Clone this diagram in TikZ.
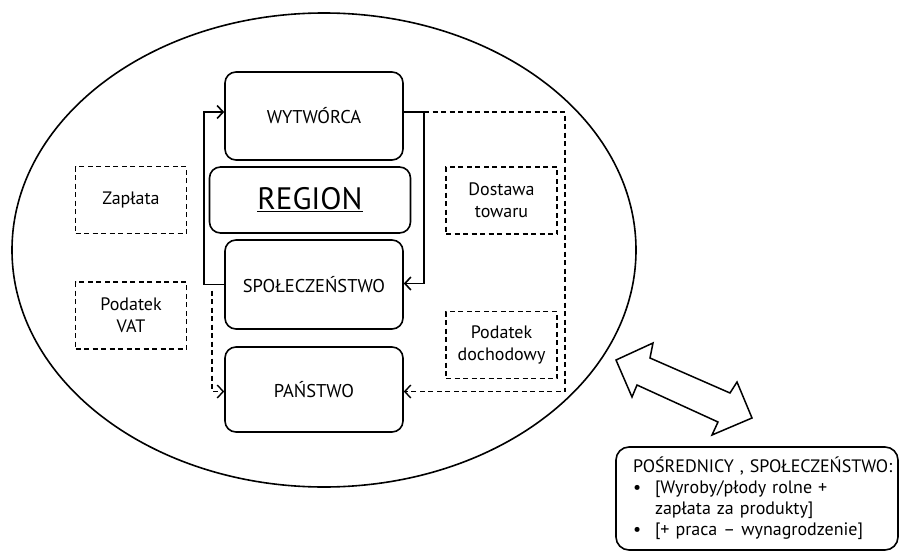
\documentclass[tikz,border=0pt]{standalone}
\usepackage{fontspec}
\setmainfont{PT Sans}
\usetikzlibrary{arrows.meta,positioning}

\begin{document}
\begin{tikzpicture}[x=1pt,y=-1pt,
    box/.style={draw, line width=1.6pt, rounded corners=11pt, minimum width=178pt,
      font=\fontsize{18.5}{20}\selectfont},
    note/.style={draw, line width=1.4pt, dash pattern=on 5pt off 3.5pt, minimum width=111pt,
      minimum height=67pt, align=center, font=\fontsize{18}{22}\selectfont},
    flow/.style={line width=1.6pt, -{Straight Barb[length=6pt,width=13pt]}},
    taxflow/.style={flow, line width=1.4pt, dash pattern=on 5pt off 3.5pt}]
    \useasboundingbox (0,0) rectangle (900,554);
    \def \lx {204}   % left loop
    \def \rx {424}   % right loop
    \def \dx {565}   % dashed return line
    \def \ldx {212}  % dashed VAT line
    % region
    \draw[line width=1.6pt] (324,250) ellipse [x radius=312, y radius=237];
    \node[box, minimum height=88pt] (wytworca) at (314,116) {WYTWÓRCA};
    \node[box, minimum width=201pt, minimum height=66pt, font=\fontsize{31}{34}\selectfont]
      (region) at (310,200) {\underline{REGION}};
    \node[box, minimum height=89pt] (spoleczenstwo) at (314,284.5) {SPOŁECZEŃSTWO};
    \node[box, minimum height=85pt] (panstwo) at (314,389.5) {PAŃSTWO};
    \foreach \nm/\px/\py/\txt in {zaplata/131/200/{Zapłata},
        vat/131/315.5/{Podatek\\VAT},
        dostawa/501.5/200.5/{Dostawa\\towaru},
        dochodowy/501.5/345/{Podatek\\dochodowy}}
    {
      \node[note] (\nm) at (\px,\py) {\txt};
    }
    \coordinate (lcorner) at (\lx,0);
    \coordinate (rcorner) at (\rx,0);
    \coordinate (dcorner) at (\dx,0);
    \coordinate (vcorner) at (\ldx,0);
    \draw[flow] (spoleczenstwo.west) -- (spoleczenstwo.west -| lcorner)
      |- ([yshift=4pt]wytworca.west);
    \draw[flow] ([yshift=4pt]wytworca.east) -- ([yshift=4pt]wytworca.east -| rcorner)
      |- ([yshift=1pt]spoleczenstwo.east);
    \draw[taxflow] ([yshift=4pt]wytworca.east -| rcorner) -- ([yshift=4pt]wytworca.east -| dcorner)
      |- ([yshift=-2pt]panstwo.east);
    \draw[taxflow] ([yshift=-6pt]spoleczenstwo.west -| vcorner) |- ([yshift=-2pt]panstwo.west);
    % exchange with the outside
    \draw[line width=1.5pt, line join=miter] (616,360) -- (653,343) -- (650,358) -- (730,393)
      -- (737,382) -- (752,418) -- (712,435) -- (718,422) -- (637,385) -- (632,397) -- cycle;
    \node[draw, line width=1.6pt, rounded corners=13pt, minimum width=282pt, minimum height=103pt,
      align=left, font=\fontsize{18}{21}\selectfont, inner xsep=0pt, text width=248pt]
      (posrednicy) at (757,498.5) {\mbox{POŚREDNICY , SPOŁECZEŃSTWO:}\\
      \makebox[22pt][l]{\textbullet}[Wyroby/płody rolne +\\
      \hspace*{22pt}zapłata za produkty]\\
      \makebox[22pt][l]{\textbullet}[+ praca – wynagrodzenie]};
\end{tikzpicture}
\end{document}
